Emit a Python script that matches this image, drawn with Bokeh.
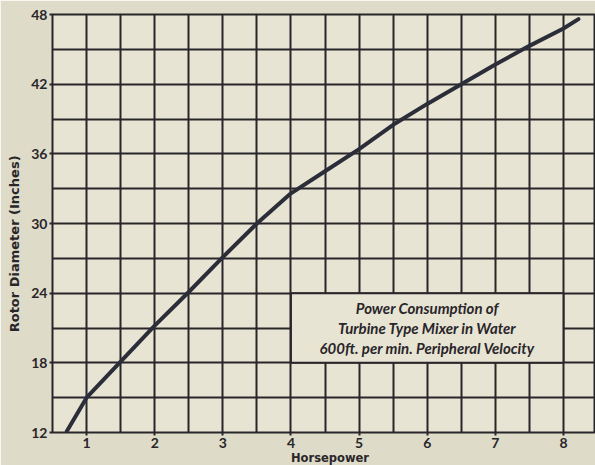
from bokeh.plotting import figure
from bokeh.models import FixedTicker, Range1d
from bokeh.core.properties import value
from bokeh.embed import file_html
from bokeh.resources import INLINE

# Data
horsepower = [0.71, 1.0, 1.5, 2.0, 2.5, 3.0, 3.5, 4.0, 4.5, 5.0, 5.5, 6.0, 6.5, 7.0, 7.5, 8.0, 8.22]
diameter = [12.1, 15.0, 18.1, 21.2, 24.1, 27.1, 30.0, 32.6, 34.5, 36.4, 38.5, 40.3, 42.0, 43.7, 45.3, 46.8, 47.6]

x_ticks = [1, 2, 3, 4, 5, 6, 7, 8]
y_ticks = [12, 18, 24, 30, 36, 42, 48]
x_grid = [0.5, 1, 1.5, 2, 2.5, 3, 3.5, 4, 4.5, 5, 5.5, 6, 6.5, 7, 7.5, 8, 8.5]
y_grid = [12, 15, 18, 21, 24, 27, 30, 33, 36, 39, 42, 45, 48]

box_lines = ["Power Consumption of", "Turbine Type Mixer in Water", "600ft. per min. Peripheral Velocity"]
box_left, box_right, box_bottom, box_top = 4, 8, 18, 24

x_label = "Horsepower"
y_label = "Rotor Diameter (Inches)"

INK = "#29262a"
PAPER_OUT = "#dfdbc9"
PAPER_IN = "#e8e4d4"

p = figure(frame_width=543, frame_height=418, x_range=Range1d(0.5, 8.47), y_range=Range1d(12, 48),
           output_backend="svg", toolbar_location=None,
           min_border_left=52, min_border_right=0, min_border_top=14, min_border_bottom=0)

p.background_fill_color = PAPER_IN
p.border_fill_color = PAPER_OUT
p.outline_line_color = INK
p.outline_line_width = 2

p.xaxis.ticker = FixedTicker(ticks=x_ticks)
p.yaxis.ticker = FixedTicker(ticks=y_ticks)
p.xgrid.ticker = FixedTicker(ticks=x_grid)
p.ygrid.ticker = FixedTicker(ticks=y_grid)
for g in (p.xgrid, p.ygrid):
    g.grid_line_color = INK
    g.grid_line_width = 2
    g.grid_line_alpha = 1.0

for ax in (p.xaxis, p.yaxis):
    ax.axis_line_color = None
    ax.major_tick_line_color = INK
    ax.major_tick_line_width = 2
    ax.major_tick_out = 3
    ax.major_tick_in = 0
    ax.minor_tick_line_color = None
    ax.major_label_text_font = "Lato"
    ax.major_label_text_font_style = "bold"
    ax.major_label_text_font_size = "14px"
    ax.major_label_text_color = INK
    ax.axis_label_text_font = "DejaVu Sans"
    ax.axis_label_text_font_style = "bold"
    ax.axis_label_text_color = INK
p.xaxis.major_label_standoff = 2
p.yaxis.major_label_standoff = 2

# y axis title (non-breaking padding nudges it below the frame centre, as in the original)
p.yaxis.axis_label = y_label + "\u00a0" * 9
p.yaxis.axis_label_standoff = 6
p.yaxis.axis_label_text_font_size = "13px"

# x axis title (slightly right of the frame centre, as in the original)
p.xaxis.axis_label = "\u00a0" * 3 + x_label
p.xaxis.axis_label_standoff = 0
p.xaxis.axis_label_text_font_size = "11.5px"

# Text box covering part of the grid
p.quad(left=[box_left], right=[box_right], bottom=[box_bottom], top=[box_top],
       fill_color=PAPER_IN, line_color=INK, line_width=2)

cx = (box_left + box_right) / 2
cy = (box_bottom + box_top) / 2
step = 1.68
ys = [cy + step, cy, cy - step]
p.text(x=[cx] * 3, y=ys, text=box_lines, text_align="center", text_baseline="middle",
       text_font=value("Lato"), text_font_style="bold italic", text_font_size="15px",
       text_color=INK)

# Curve
p.line(horsepower, diameter, line_color="#2b2e38", line_width=4, line_join="round", line_cap="round")

open("out.html", "w").write(file_html(p, INLINE))
